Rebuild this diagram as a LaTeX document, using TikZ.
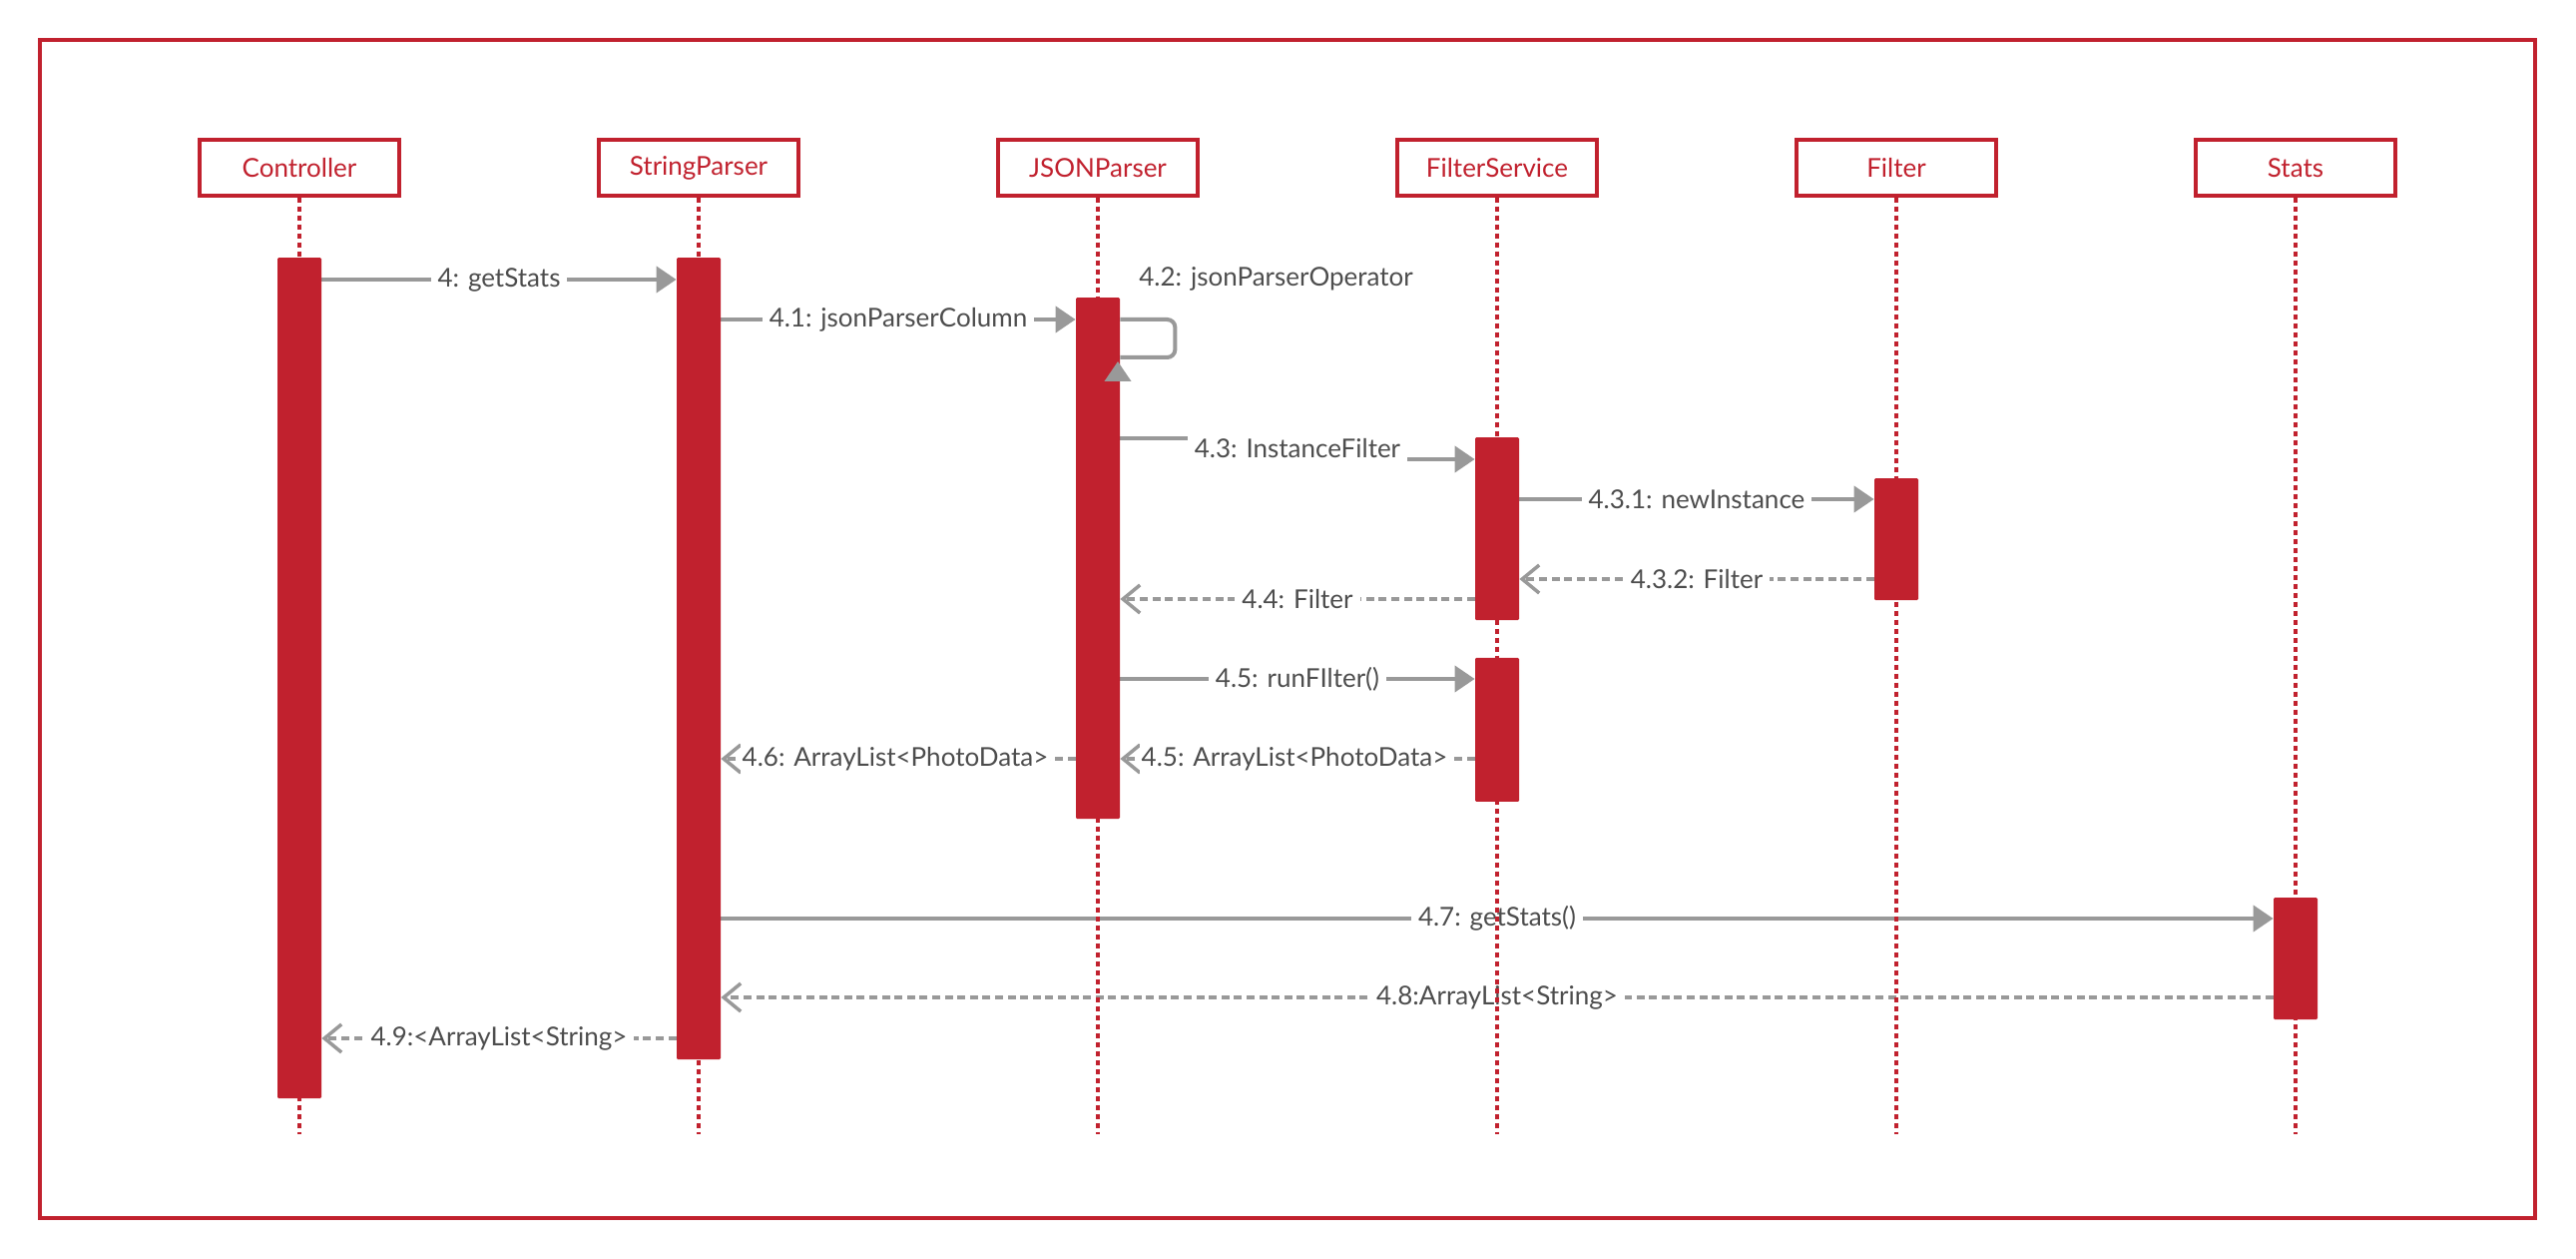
\documentclass[tikz,border=0pt]{standalone}
\usepackage{fontspec}
\setmainfont{Lato}
\usepackage{xcolor}
\usepackage{tikz}
\usetikzlibrary{arrows.meta,positioning}
\definecolor{umlred}{RGB}{193,33,46}
\definecolor{msggray}{RGB}{153,153,153}
\definecolor{lbltext}{RGB}{77,77,77}
\pgfdeclarelayer{bg}
\pgfdeclarelayer{msgs}
\pgfsetlayers{bg,msgs,main}

\begin{document}
\begin{tikzpicture}[
  x=0.5pt, y=-0.5pt,
  node distance=98.25pt,
  every node/.style={font=\fontsize{13}{15}\selectfont},
  lifebox/.style={rectangle, draw=umlred, line width=1.75pt, fill=white,
    minimum width=100pt, minimum height=28pt, text=umlred,
    font=\fontsize{13}{15}\selectfont},
  lifeline/.style={draw=umlred, line width=1.75pt, dash pattern=on 2.75pt off 1.75pt},
  actbar/.style={rectangle, fill=umlred, rounded corners=0.6pt,
    minimum width=22pt, inner sep=0pt},
  msg/.style={draw=msggray, line width=2pt, -{Triangle[length=10pt,width=13pt]}},
  ret/.style={draw=msggray, line width=1.75pt, dash pattern=on 4pt off 2.3pt,
    -{Straight Barb[length=8.5pt,width=14pt]}},
  lbl/.style={fill=white, text=lbltext, inner xsep=3.5pt, inner ysep=1pt, midway},
]

% === Canvas and frame ===
\begin{pgfonlayer}{bg}
\path[use as bounding box, fill=white] (0,0) rectangle (2581,1261);
\draw[umlred, line width=2pt] (40,40) rectangle (2540,1220);
\end{pgfonlayer}

% === Lifeline heads ===
\node[lifebox] (ctrl) at (300,168) {Controller};
\node[lifebox, right=of ctrl] (sp) {StringParser};
\node[lifebox, right=of sp] (jp) {JSONParser};
\node[lifebox, right=of jp] (fs) {FilterService};
\node[lifebox, right=of fs] (fil) {Filter};
\node[lifebox, right=of fil] (st) {Stats};

\coordinate (endrow) at (0,1136);
\foreach \n in {ctrl,sp,jp,fs,fil,st}
  \draw[lifeline] (\n.south) -- (\n.south |- endrow);

% === Activation bars ===
\node[actbar, minimum height=421pt, below=30pt of ctrl] (ctrlbar) {};
\node[actbar, minimum height=401.5pt, below=30pt of sp] (spbar) {};
\node[actbar, minimum height=261pt, below=50pt of jp] (jpbar) {};
\node[actbar, minimum height=91.5pt, below=120pt of fs] (fs1) {};
\node[actbar, minimum height=72pt, below=18.5pt of fs1] (fs2) {};
\node[actbar, minimum height=61pt, below=140.5pt of fil] (filbar) {};
\node[actbar, minimum height=61pt, below=350.5pt of st] (stbar) {};

% === Message rows ===
\coordinate (m1) at (0,280);
\coordinate (m2) at (0,320);
\coordinate (m3b) at (0,358);
\coordinate (m3c) at (1120,362);
\coordinate (m3d) at (1120,380);
\coordinate (m4a) at (1300,439);
\coordinate (m4b) at (1300,460);
\coordinate (m5) at (0,500);
\coordinate (m6) at (0,580);
\coordinate (m7) at (0,600);
\coordinate (m8) at (0,680);
\coordinate (m9) at (0,760);
\coordinate (m11) at (0,920);
\coordinate (m12) at (0,999);
\coordinate (m13) at (0,1040);

% self call sits on top of its bar
\node[text=lbltext, anchor=west, inner sep=0pt] (selfl) at (1141,279) {4.2: jsonParserOperator};
\draw[msg, rounded corners=4pt] (jpbar.east |- m2) -- ++(55,0) -- ++(0,38)
  -- (jpbar.east |- m3b) (m3d) -- (m3c);

% === Messages ===
\begin{pgfonlayer}{msgs}
\draw[msg] (ctrlbar.east |- m1) -- node[lbl] {4: getStats} (spbar.west |- m1);
\draw[msg] (spbar.east |- m2) -- node[lbl] {4.1: jsonParserColumn} (jpbar.west |- m2);

\draw[msg] (jpbar.east |- m4a) -- (m4a) -- node[lbl, inner ysep=3pt] {4.3: InstanceFilter} (m4b) -- (fs1.west |- m4b);
\draw[msg] (fs1.east |- m5) -- node[lbl] {4.3.1: newInstance} (filbar.west |- m5);
\draw[ret] (filbar.west |- m6) -- node[lbl] {4.3.2: Filter} (fs1.east |- m6);
\draw[ret] (fs1.west |- m7) -- node[lbl] {4.4: Filter} (jpbar.east |- m7);

\draw[msg] (jpbar.east |- m8) -- node[lbl] {4.5: runFIlter()} (fs2.west |- m8);
\draw[ret] (fs2.west |- m9) -- node[lbl, inner xsep=1pt, xshift=-1.5pt] {4.5: ArrayList<PhotoData>} (jpbar.east |- m9);
\draw[ret] (jpbar.west |- m9) -- node[lbl, inner xsep=1pt, xshift=-1.5pt] {4.6: ArrayList<PhotoData>} (spbar.east |- m9);

\draw[msg] (spbar.east |- m11) -- node[lbl] {4.7: getStats()} (stbar.west |- m11);
\draw[ret] (stbar.west |- m12) -- node[lbl] {4.8:ArrayList<String>} (spbar.east |- m12);
\draw[ret] (spbar.west |- m13) -- node[lbl] {4.9:<ArrayList<String>} (ctrlbar.east |- m13);
\end{pgfonlayer}

\end{tikzpicture}
\end{document}
